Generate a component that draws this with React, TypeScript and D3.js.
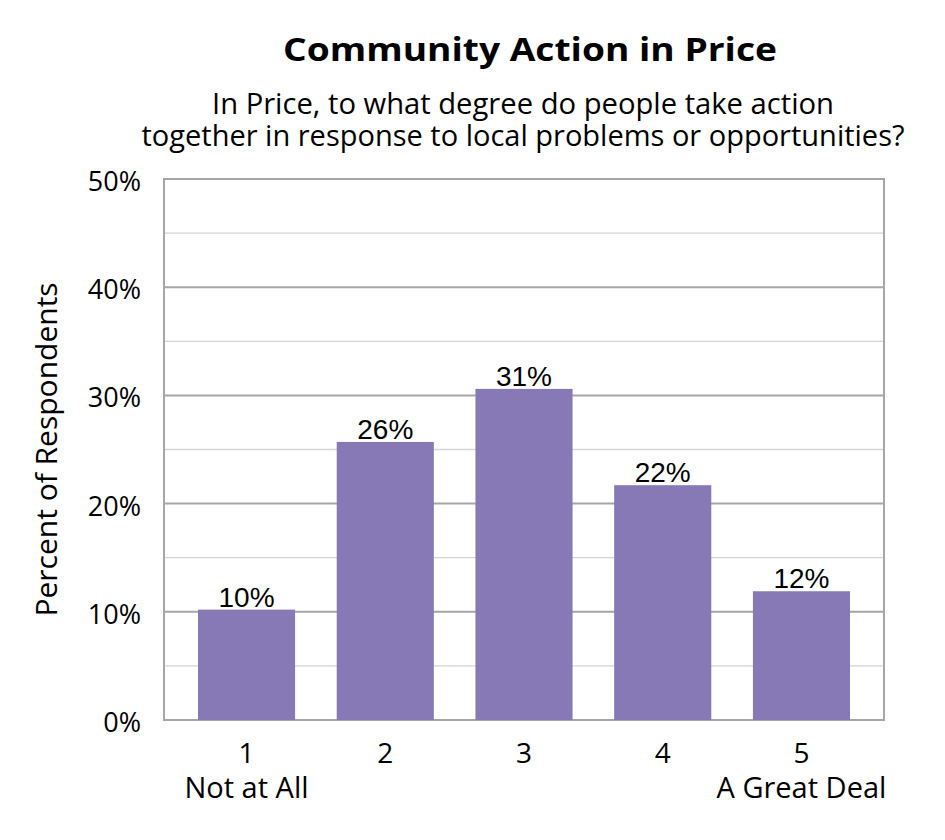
import React from "react";
import * as d3 from "d3";

const categories = ["1", "2", "3", "4", "5"];
const subLabels = ["Not at All", "", "", "", "A Great Deal"];
const values = [10.2, 25.7, 30.6, 21.7, 11.9];
const valueLabels = ["10%", "26%", "31%", "22%", "12%"];
const majorTicks = [0, 10, 20, 30, 40, 50];
const minorTicks = [5, 15, 25, 35, 45];

const W = 945;
const H = 840;
const M = { top: 179, right: 61, bottom: 120, left: 164 };
const iW = W - M.left - M.right;
const iH = H - M.top - M.bottom;

const BAR = "#8779b5";
const GRID_MAJOR = "#a6a6a6";
const GRID_MINOR = "#d4d4d4";
const FONT = "'Open Sans', 'DejaVu Sans', sans-serif";
const ARIAL = "'Liberation Sans', Arial, sans-serif";

const App: React.FC = () => {
    const x = d3.scaleBand<string>()
        .domain(categories)
        .range([0, iW])
        .paddingInner(0.3)
        .paddingOuter(0.245);
    const y = d3.scaleLinear().domain([0, 50]).range([iH, 0]);
    const cx = (c: string) => x(c)! + x.bandwidth() / 2;

    return (
        <svg width={W} height={H} style={{ position: "absolute", left: 0, top: 0, background: "#fff" }}>
            {/* Titles */}
            <text x={530} y={61} textAnchor="middle" fontFamily={FONT} fontWeight={700}
                fontSize={32} textLength={494} lengthAdjust="spacingAndGlyphs" fill="#000">
                Community Action in Price
            </text>
            <text x={523} y={114} textAnchor="middle" fontFamily={FONT}
                fontSize={29} textLength={622} lengthAdjust="spacingAndGlyphs" fill="#000">
                In Price, to what degree do people take action
            </text>
            <text x={523} y={146} textAnchor="middle" fontFamily={FONT}
                fontSize={29} textLength={763} lengthAdjust="spacingAndGlyphs" fill="#000">
                together in response to local problems or opportunities?
            </text>

            <g transform={`translate(${M.left},${M.top})`}>
                {/* Minor grid */}
                {minorTicks.map((t) => (
                    <line key={`mi${t}`} x1={0} x2={iW} y1={y(t)} y2={y(t)} stroke={GRID_MINOR} strokeWidth={1.3} />
                ))}
                {/* Major grid */}
                {majorTicks.map((t) => (
                    <line key={`ma${t}`} x1={0} x2={iW} y1={y(t)} y2={y(t)} stroke={GRID_MAJOR} strokeWidth={2} />
                ))}
                {/* Frame */}
                <rect x={0} y={0} width={iW} height={iH} fill="none" stroke={GRID_MAJOR} strokeWidth={2} />

                {/* Bars */}
                {values.map((v, i) => (
                    <rect key={categories[i]} x={x(categories[i])!} y={y(v)} width={x.bandwidth()}
                        height={iH - y(v)} fill={BAR} />
                ))}
                {/* Value labels */}
                {values.map((v, i) => (
                    <text key={`v${i}`} x={cx(categories[i])} y={y(v) - 3}
                        textAnchor="middle" fontFamily={ARIAL} fontSize={28} fill="#000">
                        {valueLabels[i]}
                    </text>
                ))}

                {/* Y ticks */}
                {majorTicks.map((t) => (
                    <text key={`yt${t}`} x={-23} y={y(t) + 12} textAnchor="end" fontFamily={FONT}
                        fontSize={27} fill="#000">
                        {`${t}%`}
                    </text>
                ))}

                {/* X ticks */}
                {categories.map((c, i) => (
                    <g key={`xt${c}`}>
                        <text x={cx(c)} y={iH + 43} textAnchor="middle"
                            fontFamily={FONT} fontSize={28} fill="#000">{c}</text>
                        {subLabels[i] && (
                            <text x={cx(c)} y={iH + 78} textAnchor="middle"
                                fontFamily={FONT} fontSize={29} fill="#000">{subLabels[i]}</text>
                        )}
                    </g>
                ))}
            </g>

            {/* Y axis title */}
            <text transform={`translate(57,${M.top + iH / 2}) rotate(-90)`} textAnchor="middle"
                fontFamily={FONT} fontSize={30} fill="#000">
                Percent of Respondents
            </text>
        </svg>
    );
};

export default App;
